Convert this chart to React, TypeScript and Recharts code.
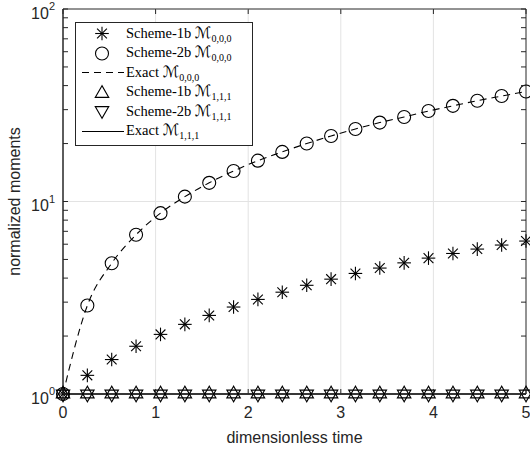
import React from 'react';
import { LineChart, Line, XAxis, YAxis, ReferenceLine, ReferenceArea, Legend } from 'recharts';

// Sampling instants (dimensionless time)
const times = [0, 0.263, 0.526, 0.789, 1.053, 1.316, 1.579, 1.842, 2.105, 2.368, 2.632, 2.895, 3.158, 3.421, 3.684, 3.947, 4.211, 4.474, 4.737, 5];

// Normalized zeroth moment M_{0,0,0}
const scheme1bM000 = [1, 1.25, 1.51, 1.77, 2.04, 2.3, 2.56, 2.83, 3.1, 3.38, 3.67, 3.95, 4.23, 4.51, 4.8, 5.08, 5.37, 5.66, 5.94, 6.23];
const scheme2bM000 = [1, 2.88, 4.78, 6.72, 8.7, 10.6, 12.5, 14.4, 16.3, 18.1, 20.0, 21.9, 23.8, 25.7, 27.5, 29.5, 31.4, 33.4, 35.3, 37.3];
const exactM000 = [1, 2.88, 4.78, 6.72, 8.7, 10.6, 12.5, 14.4, 16.3, 18.1, 20.0, 21.9, 23.8, 25.7, 27.5, 29.5, 31.4, 33.4, 35.3, 37.3];

// Normalized mixed moment M_{1,1,1}
const scheme1bM111 = [1, 1, 1, 1, 1, 1, 1, 1, 1, 1, 1, 1, 1, 1, 1, 1, 1, 1, 1, 1];
const scheme2bM111 = [1, 1, 1, 1, 1, 1, 1, 1, 1, 1, 1, 1, 1, 1, 1, 1, 1, 1, 1, 1];
const exactM111 = [1, 1, 1, 1, 1, 1, 1, 1, 1, 1, 1, 1, 1, 1, 1, 1, 1, 1, 1, 1];

// Axes
const xTicks = [0, 1, 2, 3, 4, 5];
const xGrid = [1, 2, 3, 4];
const yTicks = [1, 2, 3, 4, 5, 6, 7, 8, 9, 10, 20, 30, 40, 50, 60, 70, 80, 90, 100];
const yDecades = [1, 10, 100];
const yGrid = [10];

// Legend entries
const legendNames = ['Scheme-1b', 'Scheme-2b', 'Exact', 'Scheme-1b', 'Scheme-2b', 'Exact'];
const legendSubs = ['0,0,0', '0,0,0', '0,0,0', '1,1,1', '1,1,1', '1,1,1'];
const legendKinds = ['asterisk', 'circle', 'dashed', 'triUp', 'triDown', 'solid'];

const data = times.map((t, i) => ({
  t,
  s1b000: scheme1bM000[i],
  s2b000: scheme2bM000[i],
  ex000: exactM000[i],
  s1b111: scheme1bM111[i],
  s2b111: scheme2bM111[i],
  ex111: exactM111[i],
}));

const W = 530;
const H = 451;
const PLOT_LEFT = 63;
const PLOT_RIGHT = 526;
const PLOT_TOP = 9;
const PLOT_BOTTOM = 394;
const TICK = 5;
const AXIS = '#262626';
const GRID = '#e3e3e3';
const SANS = '"Liberation Sans", Arial, Helvetica, sans-serif';
const SERIF = '"Liberation Serif", "DejaVu Serif", serif';
const MW = 1.1;

const Asterisk = ({ cx, cy }: { cx: number; cy: number }) => {
  const r = 6.8;
  const d = r * 0.72;
  return (
    <g stroke="#000" strokeWidth={MW} fill="none">
      <line x1={cx - r} y1={cy} x2={cx + r} y2={cy} />
      <line x1={cx} y1={cy - r} x2={cx} y2={cy + r} />
      <line x1={cx - d} y1={cy - d} x2={cx + d} y2={cy + d} />
      <line x1={cx - d} y1={cy + d} x2={cx + d} y2={cy - d} />
    </g>
  );
};

const Ring = ({ cx, cy }: { cx: number; cy: number }) => (
  <circle cx={cx} cy={cy} r={6.5} fill="none" stroke="#000" strokeWidth={MW} />
);

const TriUp = ({ cx, cy }: { cx: number; cy: number }) => {
  const R = 7.8;
  const hw = R * 0.866;
  return (
    <polygon
      points={`${cx},${cy - R} ${cx - hw},${cy + R / 2} ${cx + hw},${cy + R / 2}`}
      fill="none"
      stroke="#000"
      strokeWidth={MW}
    />
  );
};

const TriDown = ({ cx, cy }: { cx: number; cy: number }) => {
  const R = 7.8;
  const hw = R * 0.866;
  return (
    <polygon
      points={`${cx},${cy + R} ${cx - hw},${cy - R / 2} ${cx + hw},${cy - R / 2}`}
      fill="none"
      stroke="#000"
      strokeWidth={MW}
    />
  );
};

const XTick = (props: any) => {
  const { x, payload } = props;
  return (
    <g>
      <line x1={x} y1={PLOT_BOTTOM} x2={x} y2={PLOT_BOTTOM - TICK} stroke={AXIS} />
      <line x1={x} y1={PLOT_TOP} x2={x} y2={PLOT_TOP + TICK} stroke={AXIS} />
      <text x={x} y={412} textAnchor="middle" dominantBaseline="central" fontFamily={SANS} fontSize={16} fill={AXIS}>
        {payload.value}
      </text>
    </g>
  );
};

const YTick = (props: any) => {
  const { y, payload } = props;
  const v = payload.value as number;
  const isDecade = yDecades.includes(v);
  return (
    <g>
      <line x1={PLOT_LEFT} y1={y} x2={PLOT_LEFT + TICK} y2={y} stroke={AXIS} />
      <line x1={PLOT_RIGHT} y1={y} x2={PLOT_RIGHT - TICK} y2={y} stroke={AXIS} />
      {isDecade && (
        <text x={PLOT_LEFT - 8} y={y + 4} textAnchor="end" dominantBaseline="central" fontFamily={SANS} fontSize={16} fill={AXIS}>
          10
          <tspan dy={-7} fontSize={11}>
            {Math.round(Math.log10(v))}
          </tspan>
        </text>
      )}
    </g>
  );
};

const XTitle = () => (
  <text x={(PLOT_LEFT + PLOT_RIGHT) / 2} y={437} textAnchor="middle" dominantBaseline="central" fontFamily={SANS} fontSize={16} fill={AXIS}>
    dimensionless time
  </text>
);

const YTitle = () => {
  const cy = (PLOT_TOP + PLOT_BOTTOM) / 2;
  return (
    <text
      x={14}
      y={cy}
      transform={`rotate(-90 14 ${cy})`}
      textAnchor="middle"
      dominantBaseline="central"
      fontFamily={SANS}
      fontSize={16}
      fill={AXIS}
    >
      normalized moments
    </text>
  );
};

const LegendSample = ({ kind }: { kind: string }) => {
  const cx = 26;
  const cy = 9.5;
  return (
    <svg width={50} height={19} style={{ display: 'block', flex: '0 0 auto', overflow: 'visible' }}>
      {kind === 'asterisk' && <Asterisk cx={cx} cy={cy} />}
      {kind === 'circle' && <Ring cx={cx} cy={cy} />}
      {kind === 'triUp' && <TriUp cx={cx} cy={cy + 1} />}
      {kind === 'triDown' && <TriDown cx={cx} cy={cy - 1} />}
      {kind === 'dashed' && <line x1={6} y1={cy} x2={48} y2={cy} stroke="#000" strokeWidth={1} strokeDasharray="7 5" />}
      {kind === 'solid' && <line x1={6} y1={cy} x2={48} y2={cy} stroke="#000" strokeWidth={1} />}
    </svg>
  );
};

const renderLegend = () => (
  <div
    style={{
      border: `1px solid ${AXIS}`,
      background: '#fff',
      width: 176,
      padding: '1px 0 4px 0',
      fontFamily: SERIF,
      fontSize: 14.5,
      color: '#000',
      boxSizing: 'content-box',
    }}
  >
    {legendKinds.map((kind, i) => (
      <div key={i} style={{ display: 'flex', alignItems: 'center', height: 19.5, whiteSpace: 'nowrap' }}>
        <LegendSample kind={kind} />
        <span style={{ lineHeight: '19px' }}>
          {legendNames[i]}{' '}
          <span style={{ fontFamily: '"DejaVu Sans", sans-serif', fontSize: 15.5 }}>ℳ</span>
          <span style={{ fontSize: 10, position: 'relative', top: 4 }}>{legendSubs[i]}</span>
        </span>
      </div>
    ))}
  </div>
);

const markerLine = {
  stroke: 'none',
  activeDot: false as const,
  isAnimationActive: false,
};

export default function App() {
  return (
    <div style={{ position: 'absolute', left: 0, top: 0, width: W, height: H, background: '#fff' }}>
      <LineChart width={W} height={H} data={data} margin={{ top: PLOT_TOP, right: W - PLOT_RIGHT, bottom: 0, left: 0 }}>
        <XAxis
          dataKey="t"
          type="number"
          domain={[0, 5]}
          ticks={xTicks}
          interval={0}
          tickLine={false}
          tick={<XTick />}
          axisLine={{ stroke: AXIS }}
          height={H - PLOT_BOTTOM}
          label={XTitle}
        />
        <YAxis
          type="number"
          scale="log"
          domain={[1, 100]}
          ticks={yTicks}
          interval={0}
          tickLine={false}
          tick={<YTick />}
          axisLine={{ stroke: AXIS }}
          width={PLOT_LEFT}
          label={YTitle}
        />
        {xGrid.map((g) => (
          <ReferenceLine key={`gx${g}`} x={g} stroke={GRID} strokeWidth={1} />
        ))}
        {yGrid.map((g) => (
          <ReferenceLine key={`gy${g}`} y={g} stroke={GRID} strokeWidth={1} />
        ))}
        <ReferenceArea x1={0} x2={5} y1={1} y2={100} fill="none" stroke={AXIS} strokeWidth={1} />
        <Line dataKey="ex111" type="linear" stroke="#000" strokeWidth={1.2} dot={false} activeDot={false} isAnimationActive={false} />
        <Line
          dataKey="ex000"
          type="monotone"
          stroke="#000"
          strokeWidth={1.1}
          strokeDasharray="7 5"
          dot={false}
          activeDot={false}
          isAnimationActive={false}
        />
        <Line dataKey="s1b000" {...markerLine} dot={(p: any) => <Asterisk key={`s1a${p.index}`} cx={p.cx} cy={p.cy} />} />
        <Line dataKey="s2b000" {...markerLine} dot={(p: any) => <Ring key={`s2a${p.index}`} cx={p.cx} cy={p.cy} />} />
        <Line dataKey="s1b111" {...markerLine} dot={(p: any) => <TriUp key={`s1b${p.index}`} cx={p.cx} cy={p.cy} />} />
        <Line dataKey="s2b111" {...markerLine} dot={(p: any) => <TriDown key={`s2b${p.index}`} cx={p.cx} cy={p.cy} />} />
        <Legend
          layout="vertical"
          align="center"
          verticalAlign="middle"
          content={renderLegend}
          wrapperStyle={{ position: 'absolute', left: 75, top: 22, width: 'auto', height: 'auto', margin: 0 }}
        />
      </LineChart>
    </div>
  );
}
